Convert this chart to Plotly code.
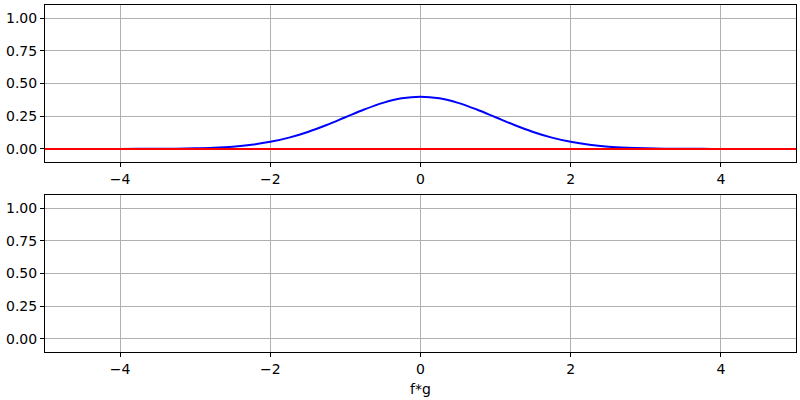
import plotly.graph_objects as go

# values
x_vals = [-5, -4.75, -4.5, -4.25, -4, -3.75, -3.5, -3.25, -3, -2.75, -2.5, -2.25, -2,
          -1.75, -1.5, -1.25, -1, -0.75, -0.5, -0.25, 0,
          0.25, 0.5, 0.75, 1, 1.25, 1.5, 1.75, 2, 2.25, 2.5, 2.75, 3,
          3.25, 3.5, 3.75, 4, 4.25, 4.5, 4.75, 5]
f_vals = [0.0, 0.0, 0.0, 0.0, 0.0001, 0.0004, 0.0009, 0.002, 0.0044, 0.0091, 0.0175, 0.0317, 0.054,
          0.0863, 0.1295, 0.1826, 0.242, 0.3011, 0.3521, 0.3867, 0.3989,
          0.3867, 0.3521, 0.3011, 0.242, 0.1826, 0.1295, 0.0863, 0.054, 0.0317, 0.0175, 0.0091, 0.0044,
          0.002, 0.0009, 0.0004, 0.0001, 0.0, 0.0, 0.0, 0.0]
g_x = [-5, 5]
g_vals = [0.0, 0.0]

x_ticks = [-4, -2, 0, 2, 4]
y_ticks = [0.0, 0.25, 0.5, 0.75, 1.0]

FONT = "DejaVu Sans"

fig = go.Figure()
fig.add_trace(go.Scatter(x=x_vals, y=f_vals, mode="lines", line=dict(color="blue", width=2, shape="spline"),
                         xaxis="x", yaxis="y", showlegend=False))
fig.add_trace(go.Scatter(x=g_x, y=g_vals, mode="lines", line=dict(color="red", width=2),
                         xaxis="x", yaxis="y", showlegend=False))
# empty lower panel
fig.add_trace(go.Scatter(x=[], y=[], xaxis="x2", yaxis="y2", showlegend=False))

ax = dict(range=[-5, 5], tickvals=x_ticks, showgrid=True, gridcolor="#b0b0b0", gridwidth=1,
          showline=True, linecolor="black", linewidth=1, mirror=True,
          ticks="outside", ticklen=4, tickcolor="black", zeroline=False,
          tickfont=dict(family=FONT, size=14, color="black"), domain=[45 / 800, 796 / 800])
ay = dict(range=[-0.1, 1.1], tickvals=y_ticks, tickformat=".2f", showgrid=True, gridcolor="#b0b0b0",
          gridwidth=1, showline=True, linecolor="black", linewidth=1, mirror=True,
          ticks="outside", ticklen=4, tickcolor="black", zeroline=False,
          tickfont=dict(family=FONT, size=14, color="black"))

fig.update_layout(
    width=800, height=400,
    margin=dict(l=0, r=0, t=0, b=0),
    paper_bgcolor="white", plot_bgcolor="white",
    xaxis=dict(ax, anchor="y"),
    yaxis=dict(ay, anchor="x", domain=[238 / 400, 395 / 400]),
    xaxis2=dict(ax, anchor="y2",
                title=dict(text="f*g", font=dict(family=FONT, size=14, color="black"), standoff=8)),
    yaxis2=dict(ay, anchor="x2", domain=[48 / 400, 205 / 400]),
)

# drop the browser's default body margin so the figure sits at 0,0
fig.write_html("out.html", config={"displayModeBar": False},
               post_script="document.body.style.margin='0';")
